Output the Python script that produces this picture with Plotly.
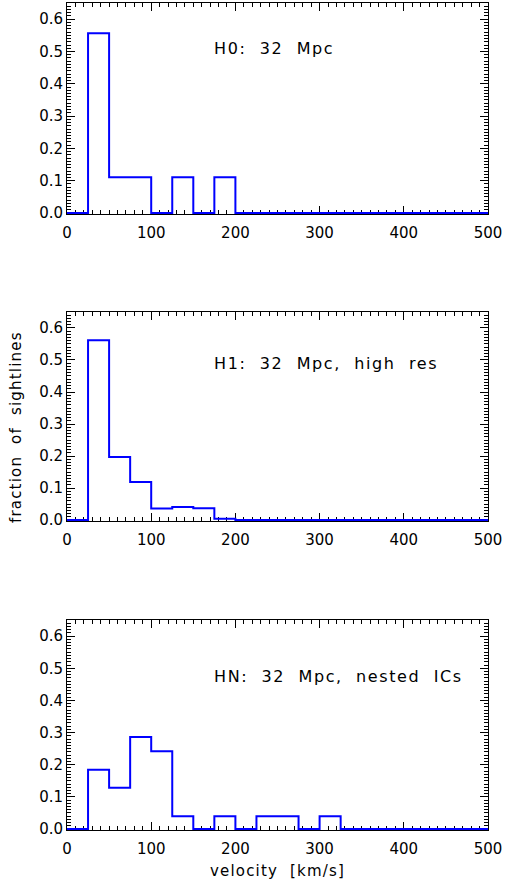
import plotly.graph_objects as go

bin_edges = [0, 25, 50, 75, 100, 125, 150, 175, 200, 225, 250, 275, 300, 325, 350, 375, 400, 425, 450, 475, 500]
h0_frac = [0, 0.556, 0.111, 0.111, 0, 0.111, 0, 0.111, 0, 0, 0, 0, 0, 0, 0, 0, 0, 0, 0, 0]
h1_frac = [0, 0.562, 0.197, 0.119, 0.036, 0.041, 0.037, 0.004, 0, 0, 0, 0, 0, 0, 0, 0, 0, 0, 0, 0]
hn_frac = [0, 0.184, 0.128, 0.286, 0.242, 0.040, 0, 0.040, 0, 0.040, 0.040, 0, 0.040, 0, 0, 0, 0, 0, 0, 0]
labels = ["H0:  32  Mpc", "H1:  32  Mpc,  high  res", "HN:  32  Mpc,  nested  ICs"]
label_y = [0.508, 0.49, 0.475]
x_ticks = [0, 100, 200, 300, 400, 500]
y_ticks = [0.0, 0.1, 0.2, 0.3, 0.4, 0.5, 0.6]

FONT = "DejaVu Sans"
W, H = 505, 884
ML, MR, MT, MB = 67, 17, 3, 54
domains = [[0.7449, 1.0], [0.3736, 0.6264], [0.0, 0.2539]]

fig = go.Figure()
series = [h0_frac, h1_frac, hn_frac]
for i, vals in enumerate(series):
    k = "" if i == 0 else str(i + 1)
    fig.add_trace(go.Scatter(
        x=bin_edges, y=vals + [vals[-1]],
        mode="lines", line=dict(color="#0000ff", width=2, shape="hv"),
        xaxis="x" + k, yaxis="y" + k, showlegend=False, hoverinfo="skip"))
    axcommon = dict(showline=True, linecolor="black", linewidth=1, mirror="ticks",
                    ticks="inside", tickcolor="black", showgrid=False, zeroline=False,
                    tickfont=dict(family=FONT, size=15, color="black"), layer="below traces")
    fig.update_layout(**{
        "xaxis" + k: dict(domain=[0, 1], range=[0, 500], tickvals=x_ticks,
                          ticktext=[str(v) for v in x_ticks], ticklen=8, ticklabelstandoff=5,
                          minor=dict(dtick=10, ticklen=4, tickcolor="black", ticks="inside"),
                          anchor="y" + k, **axcommon),
        "yaxis" + k: dict(domain=domains[i], range=[-0.003, 0.65], tickvals=y_ticks,
                          ticktext=["%.1f" % v for v in y_ticks], ticklen=8,
                          minor=dict(dtick=0.01, ticklen=4, tickcolor="black", ticks="inside"),
                          anchor="x" + k, **axcommon),
    })
    fig.add_annotation(x=172, y=label_y[i], xref="x" + k, yref="y" + k,
                       text='<span style="letter-spacing:1.6px">' + labels[i] + '</span>',
                       showarrow=False, xanchor="left", yanchor="middle",
                       font=dict(family=FONT, size=16, color="black"))

fig.add_annotation(x=-0.121, y=0.4873, xref="paper", yref="paper",
                   text='<span style="letter-spacing:1.2px">fraction  of  sightlines</span>',
                   textangle=-90, showarrow=False, xanchor="center", yanchor="middle",
                   font=dict(family=FONT, size=15, color="black"))
fig.update_layout(xaxis3_title=dict(text='<span style="letter-spacing:1.2px">velocity  [km/s]</span>', standoff=8,
                                    font=dict(family=FONT, size=15, color="black")))

fig.update_layout(width=W, height=H, margin=dict(l=ML, r=MR, t=MT, b=MB),
                  paper_bgcolor="white", plot_bgcolor="white")
fig.write_html("out.html")
